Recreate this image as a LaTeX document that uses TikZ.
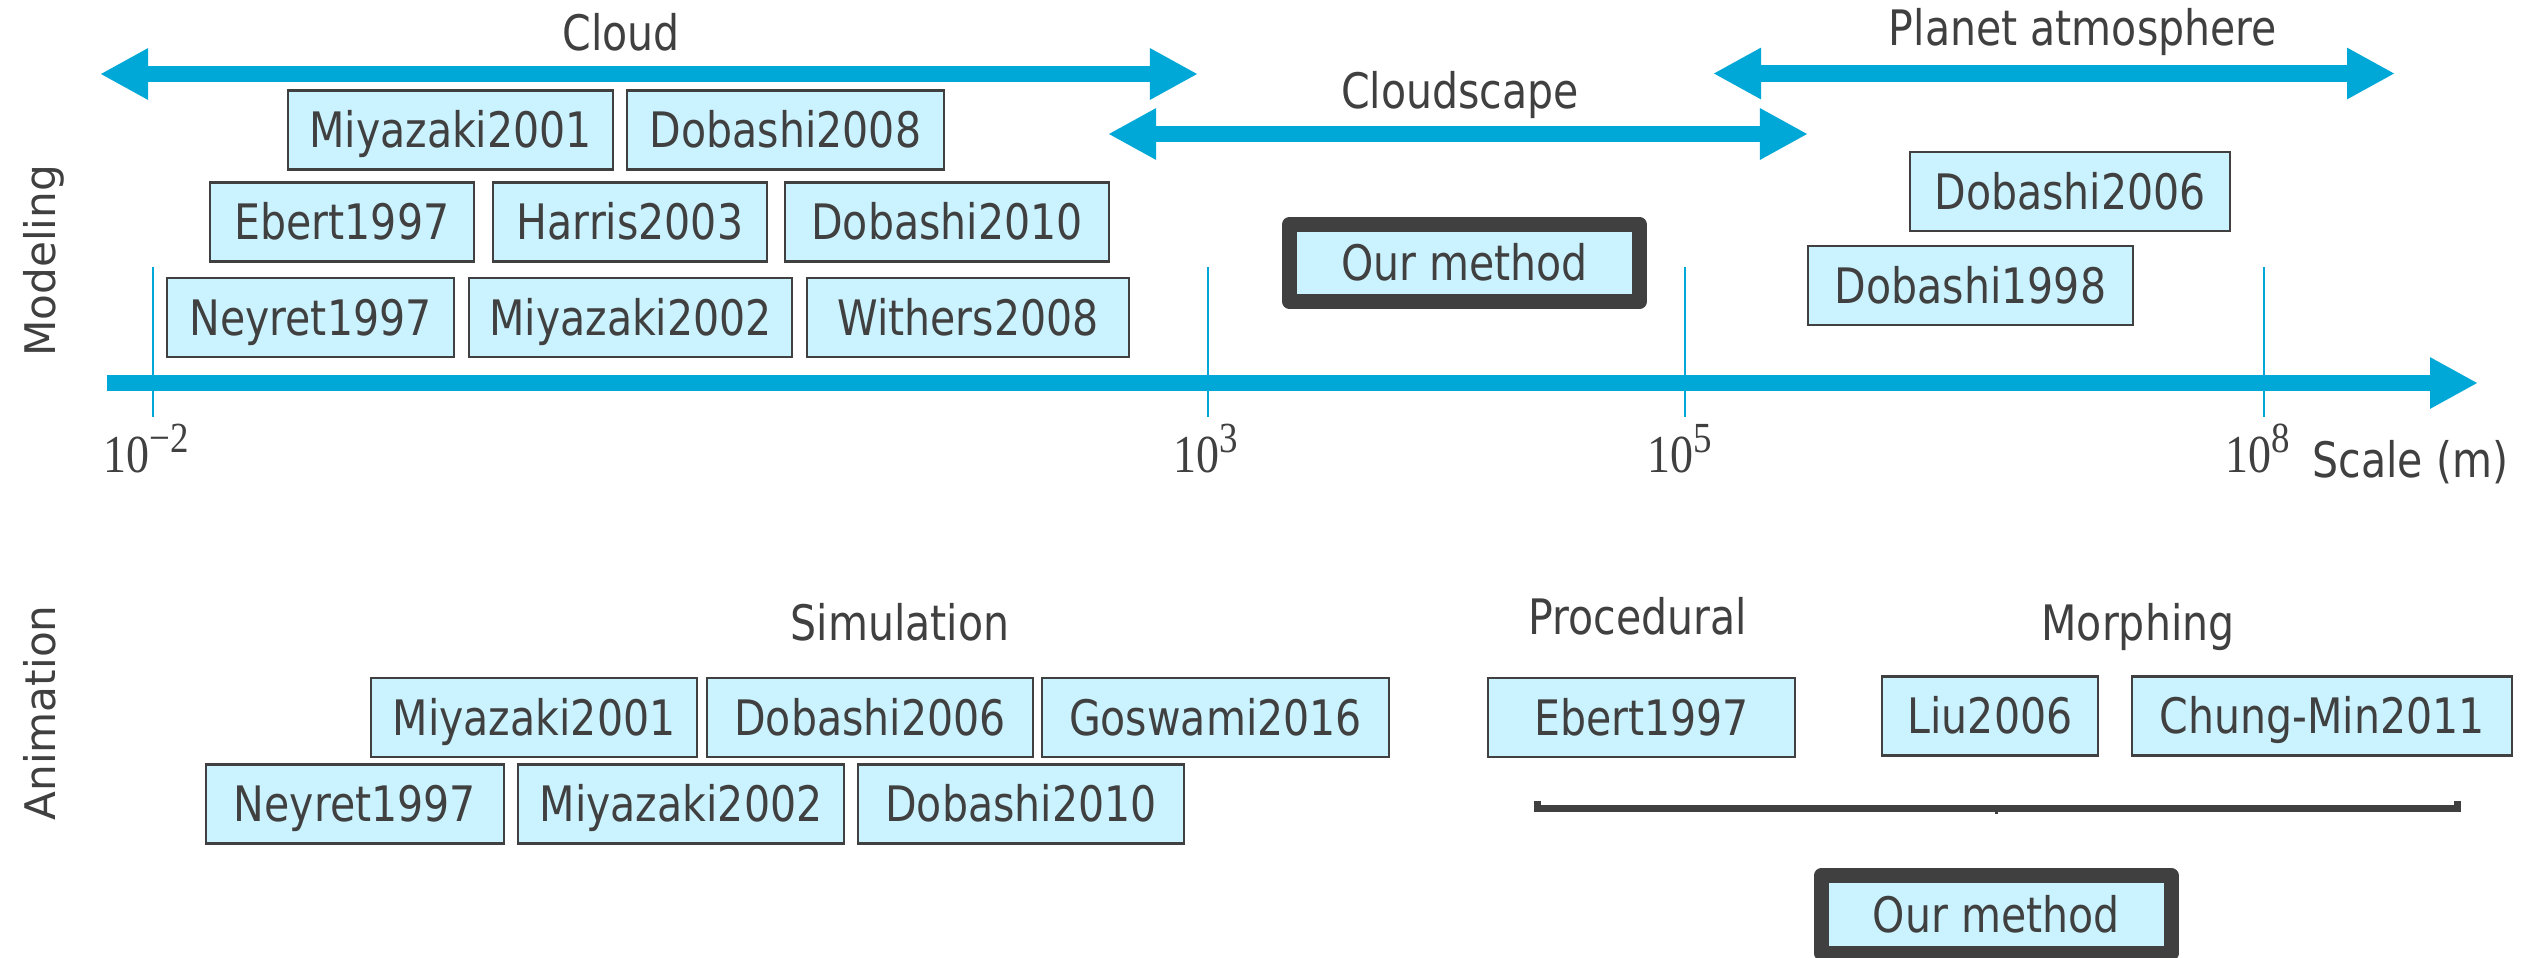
\documentclass[tikz,border=0pt]{standalone}
\usepackage{fontspec}
\usetikzlibrary{arrows.meta}
\newfontfamily\boxfont[FakeStretch=0.84]{DejaVu Sans}
\newfontfamily\sidefont{DejaVu Sans}
\newfontfamily\numfont[FakeStretch=0.86]{Liberation Serif}
\definecolor{arrowblue}{HTML}{00A8D8}
\definecolor{boxfill}{HTML}{CBF3FF}
\definecolor{inkgray}{HTML}{404040}
\newcommand{\sciexp}[1]{10\raisebox{0.2cm}{\fontsize{12.2pt}{13pt}\selectfont #1}}
\begin{document}
\begin{tikzpicture}[x=0.01cm,y=-0.01cm,
  refbox/.style={draw=inkgray, line width=0.025cm, fill=boxfill, text=inkgray,
    font=\boxfont\fontsize{13.9pt}{16pt}\selectfont, inner sep=0pt,
    text height=0.357cm, text depth=0pt, minimum height=0.785cm},
  oursbox/.style={refbox, line width=0.15cm, line join=round, minimum height=0.775cm, minimum width=3.495cm},
  lbltext/.style={text=inkgray, font=\boxfont\fontsize{13.9pt}{16pt}\selectfont, inner sep=0pt, anchor=base},
  sidetext/.style={text=inkgray, font=\sidefont\fontsize{12pt}{14pt}\selectfont, inner sep=0pt, anchor=base, rotate=90},
  scaletext/.style={text=inkgray, font=\numfont\fontsize{15.2pt}{18pt}\selectfont, inner sep=0pt, anchor=base},
  rangearrow/.style={draw=arrowblue, line width=0.16cm,
    arrows={Triangle[length=0.48cm,width=0.48cm]-Triangle[length=0.48cm,width=0.48cm]}},
  axisarrow/.style={draw=arrowblue, line width=0.16cm, arrows={-Triangle[length=0.48cm,width=0.48cm]}},
  tickline/.style={draw=arrowblue, line width=0.025cm},
  braceline/.style={draw=inkgray, line width=0.07cm}
]
\clip (0,0) rectangle (2521,957);
\fill[white] (0,0) rectangle (2521,957);

% ---------- Modeling ----------
\node[sidetext] (modeling) at (55,261) {Modeling};

% range arrows
\coordinate (cloudL) at (100,74);  \coordinate (cloudR) at (1198,74);
\coordinate (cscL) at (1108,134);  \coordinate (cscR) at (1808,134);
\coordinate (plL) at (1713,73.5);  \coordinate (plR) at (2395,73.5);
\draw[rangearrow] (cloudL) -- (cloudR);
\draw[rangearrow] (cscL) -- (cscR);
\draw[rangearrow] (plL) -- (plR);
\node[lbltext] (cloud) at (621,50) {Cloud};
\node[lbltext] (cloudscape) at (1460,108) {Cloudscape};
\node[lbltext] (planet) at (2083,45) {Planet atmosphere};

% ticks
\foreach \n/\x in {a/153,b/1208,c/1685,d/2264}{
  \coordinate (t\n top) at (\x,267);
  \coordinate (t\n bot) at (\x,417);
  \draw[tickline] (t\n top) -- (t\n bot);
}
% axis
\coordinate (axL) at (107,383); \coordinate (axR) at (2478,383);
\draw[axisarrow] (axL) -- (axR);

\node[scaletext] (lm2) at (146,472) {\sciexp{−2}};
\node[scaletext] (l3) at (1206,472) {\sciexp{3}};
\node[scaletext] (l5) at (1680,472) {\sciexp{5}};
\node[scaletext] (l8) at (2258,472) {\sciexp{8}};
\node[lbltext, anchor=base west] (scale) at (2312,477) {Scale (m)};

% boxes top
\node[refbox, minimum width=3.25cm] (m2001) at (450.5,130) {Miyazaki2001};
\node[refbox, minimum width=3.17cm] (d2008) at (785.5,130) {Dobashi2008};
\node[refbox, minimum width=2.64cm] (e1997) at (342,222) {Ebert1997};
\node[refbox, minimum width=2.74cm] (h2003) at (630,222) {Harris2003};
\node[refbox, minimum width=3.24cm] (d2010) at (947,222) {Dobashi2010};
\node[refbox, minimum width=2.87cm] (n1997) at (310.5,317.5) {Neyret1997};
\node[refbox, minimum width=3.23cm] (m2002) at (630.5,317.5) {Miyazaki2002};
\node[refbox, minimum width=3.22cm] (w2008) at (968,317.5) {Withers2008};
\node[refbox, minimum width=3.20cm] (d2006) at (2070,191.5) {Dobashi2006};
\node[refbox, minimum width=3.25cm] (d1998) at (1970.5,285.5) {Dobashi1998};
\node[oursbox] (ours1) at (1464.5,263) {Our method};

% ---------- Animation ----------
\node[sidetext] (animation) at (55,713) {Animation};
\node[lbltext] (simulation) at (900,640) {Simulation};
\node[lbltext] (procedural) at (1638,634) {Procedural};
\node[lbltext] (morphing) at (2138,640) {Morphing};

\node[refbox, minimum width=3.26cm] (am2001) at (534,717.5) {Miyazaki2001};
\node[refbox, minimum width=3.26cm] (ad2006) at (870,717.5) {Dobashi2006};
\node[refbox, minimum width=3.47cm] (ag2016) at (1215.5,717.5) {Goswami2016};
\node[refbox, minimum width=2.98cm] (an1997) at (355,804) {Neyret1997};
\node[refbox, minimum width=3.26cm] (am2002) at (681,804) {Miyazaki2002};
\node[refbox, minimum width=3.26cm] (ad2010) at (1021,804) {Dobashi2010};
\node[refbox, minimum width=3.07cm] (ae1997) at (1641.5,717.5) {Ebert1997};
\node[refbox, minimum width=2.16cm] (al2006) at (1990,716) {Liu2006};
\node[refbox, minimum width=3.80cm] (ac2011) at (2322,716) {Chung-Min2011};

% brace
\coordinate (brL) at (1537,801);
\coordinate (brR) at (2457,801);
\coordinate (brM) at (1996,808);
\coordinate (brTip) at (1996,814);
\draw[braceline, line join=miter] (brL) -- (1537,808) -- (2457,808) -- (brR);
\draw[draw=inkgray, line width=0.03cm] (brM) -- (brTip);

\node[oursbox] (ours2) at (1996.25,914.25) {Our method};
\end{tikzpicture}
\end{document}
